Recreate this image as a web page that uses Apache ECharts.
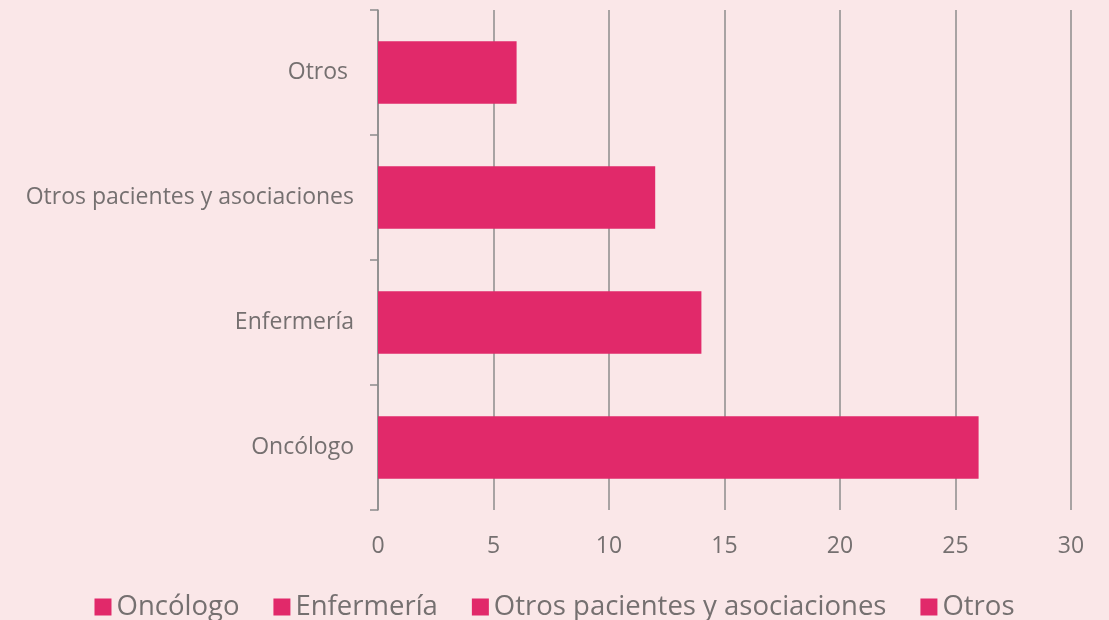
<!DOCTYPE html>
<html>
<head>
<meta charset="utf-8">
<script src="https://cdn.jsdelivr.net/npm/echarts@6/dist/echarts.min.js"></script>
<style>
html,body{margin:0;padding:0;background:#FAE7E8;}
#c{width:1109px;height:620px;}
</style>
</head>
<body>
<div id="c"></div>
<script>
const categories = ['Oncólogo', 'Enfermería', 'Otros pacientes y asociaciones', 'Otros '];
const seriesNames = ['Oncólogo', 'Enfermería', 'Otros pacientes y asociaciones', 'Otros'];
const values = [26, 14, 12, 6];
const xTicks = [0, 5, 10, 15, 20, 25, 30];

const barColor = '#E1296A';
const textColor = '#757070';
const fontFam = '"Open Sans", "Liberation Sans", sans-serif';

const series = seriesNames.map((name, i) => ({
  name: name,
  type: 'bar',
  stack: 'total',
  barWidth: '50%',
  itemStyle: { color: barColor },
  data: categories.map((c, j) => (j === i ? values[i] : '-'))
}));

const chart = echarts.init(document.getElementById('c'));
chart.setOption({
  backgroundColor: '#FAE7E8',
  animation: false,
  grid: { left: 378, right: 38, top: 10, bottom: 110, containLabel: false },
  xAxis: {
    type: 'value',
    min: xTicks[0],
    max: xTicks[xTicks.length - 1],
    interval: 5,
    axisLine: { show: false },
    axisTick: { show: false },
    splitLine: { show: true, lineStyle: { color: '#8C8C8C', width: 1.5 } },
    axisLabel: { color: textColor, fontSize: 23, fontFamily: fontFam, margin: 25 }
  },
  yAxis: {
    type: 'category',
    data: categories,
    axisLine: { show: true, lineStyle: { color: '#8C8C8C', width: 1.5 } },
    axisTick: { show: true, length: 8, lineStyle: { color: '#8C8C8C', width: 1.5 } },
    splitLine: { show: false },
    axisLabel: { color: textColor, fontSize: 23, fontFamily: fontFam, margin: 24 }
  },
  legend: {
    top: 588,
    left: 'center',
    itemWidth: 17,
    itemHeight: 17,
    itemGap: 34,
    itemTextGap: 11,
    icon: 'rect',
    textStyle: { color: textColor, fontSize: 27.5, fontFamily: fontFam },
    data: seriesNames
  },
  series: series
});
</script>
</body>
</html>
